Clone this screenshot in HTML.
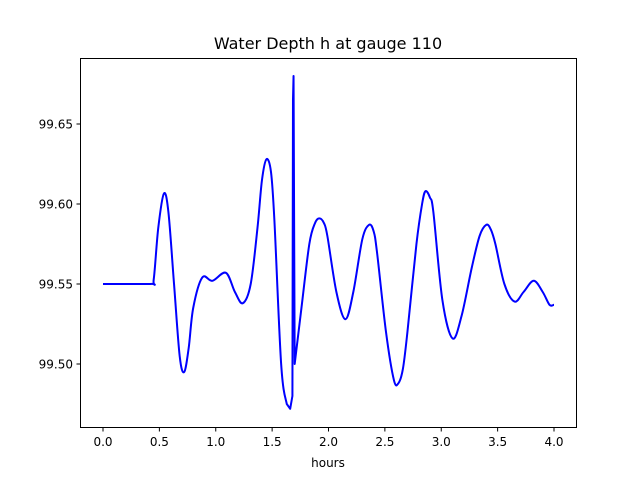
<!DOCTYPE html>
<html><head><meta charset="utf-8"><style>
body{margin:0;background:#fff;font-family:"DejaVu Sans","Liberation Sans",sans-serif;}
svg text{font-family:"DejaVu Sans","Liberation Sans",sans-serif;fill:#000}
</style></head><body>
<svg id="chart" width="640" height="480" viewBox="0 0 640 480">
<rect width="640" height="480" fill="#fff"/>
<text x="328" y="49" font-size="16" text-anchor="middle">Water Depth h at gauge 110</text>
<g id="ticks"></g>
<path id="line" fill="none" stroke="#0000ff" stroke-width="2" stroke-linejoin="round"/>
<rect x="80.5" y="58.5" width="496" height="369" fill="none" stroke="#000" stroke-width="1"/>
<text x="328" y="467" font-size="12" text-anchor="middle">hours</text>
</svg>
<script>
const hours=[0,0.42,0.45,0.49,0.54,0.58,0.63,0.68,0.72,0.76,0.80,0.88,0.97,1.09,1.17,1.24,1.31,1.37,1.41,1.45,1.49,1.52,1.58,1.63,1.66,1.68,1.685,1.69,1.70,1.76,1.83,1.88,1.92,1.96,1.99,2.07,2.15,2.22,2.30,2.36,2.40,2.43,2.51,2.58,2.62,2.66,2.70,2.78,2.83,2.86,2.90,2.93,3.01,3.10,3.18,3.27,3.34,3.40,3.44,3.48,3.56,3.65,3.73,3.82,3.90,3.96,4.00];
const depth=[99.55,99.55,99.553,99.585,99.6065,99.595,99.55,99.505,99.495,99.51,99.535,99.554,99.552,99.557,99.545,99.538,99.55,99.585,99.615,99.628,99.62,99.59,99.50,99.475,99.472,99.480,99.665,99.68,99.50,99.535,99.575,99.588,99.591,99.588,99.58,99.545,99.528,99.545,99.578,99.587,99.583,99.57,99.52,99.490,99.488,99.497,99.52,99.575,99.600,99.608,99.604,99.595,99.54,99.516,99.53,99.56,99.58,99.587,99.584,99.575,99.55,99.539,99.545,99.552,99.545,99.537,99.537];
const xTicks=[0,0.5,1,1.5,2,2.5,3,3.5,4];
const xTickLabels=["0.0","0.5","1.0","1.5","2.0","2.5","3.0","3.5","4.0"];
const yTicks=[99.50,99.55,99.60,99.65];
const yTickLabels=["99.50","99.55","99.60","99.65"];
const X=h=>103+h*112.75;
const Y=v=>284-(v-99.55)*1600;
const NS="http://www.w3.org/2000/svg";
const g=document.getElementById('ticks');
function mk(t,a){const e=document.createElementNS(NS,t);for(const k in a)e.setAttribute(k,a[k]);return e;}
xTicks.forEach((t,i)=>{
 const l=mk('line',{x1:X(t),x2:X(t),y1:427.5,y2:431.5,stroke:'#000'});
 
 
 g.appendChild(l);
 const tx=mk('text',{x:X(t),y:446,'font-size':12,'text-anchor':'middle'});
 tx.textContent=xTickLabels[i];
 
 
 g.appendChild(tx);
});
yTicks.forEach((t,i)=>{
 const l=mk('line',{x1:76.5,x2:80.5,y1:Y(t),y2:Y(t),stroke:'#000'});
 
 
 g.appendChild(l);
 const tx=mk('text',{x:73,y:Y(t)+4.5,'font-size':12,'text-anchor':'end'});
 tx.textContent=yTickLabels[i];
 
 
 g.appendChild(tx);
});
let d='';
for(let i=0;i<hours.length;i++){
 const x=X(hours[i]),y=Y(depth[i]);
 if(i===0){d='M'+x+','+y;continue;}
 const spike=(hours[i]>=1.66&&hours[i]<=1.71)||(hours[i-1]>=1.66&&hours[i-1]<=1.70);
 if(spike||i<2){d+=' L'+x+','+y;continue;}
 const x0=X(hours[i-1]),y0=Y(depth[i-1]);
 const xm1=X(hours[Math.max(i-2,0)]),ym1=Y(depth[Math.max(i-2,0)]);
 const x2=X(hours[Math.min(i+1,hours.length-1)]),y2=Y(depth[Math.min(i+1,hours.length-1)]);
 const c1x=x0+(x-xm1)/6,c1y=y0+(y-ym1)/6,c2x=x-(x2-x0)/6,c2y=y-(y2-y0)/6;
 d+=' C'+c1x+','+c1y+' '+c2x+','+c2y+' '+x+','+y;
}
document.getElementById('line').setAttribute('d',d);
</script>
</body></html>
